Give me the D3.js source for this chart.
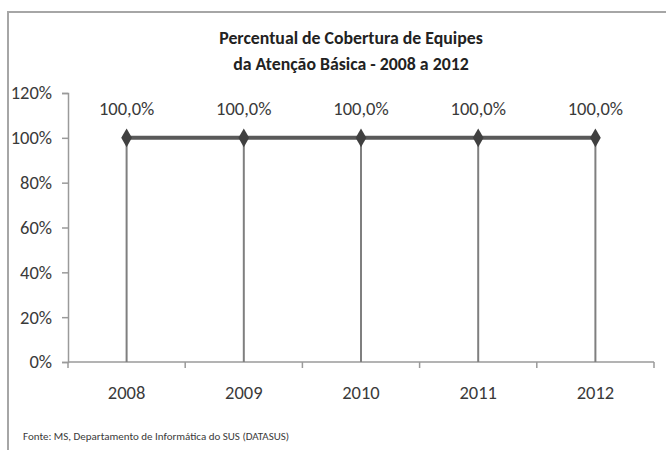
<!DOCTYPE html>
<html>
<head>
<meta charset="utf-8">
<script src="https://cdn.jsdelivr.net/npm/d3@7"></script>
<style>
  html, body { margin: 0; padding: 0; background: #fff; }
  svg { display: block; }
  text { font-family: Carlito, "Liberation Sans Narrow", "Open Sans", sans-serif; }
</style>
</head>
<body>
<svg id="chart" width="666" height="450"></svg>
<script>
// Coverage of primary care teams, 2008–2012
const years = ["2008", "2009", "2010", "2011", "2012"];
const coverage = [100.0, 100.0, 100.0, 100.0, 100.0];
const yTicks = [0, 20, 40, 60, 80, 100, 120];
const titleLines = ["Percentual de Cobertura de Equipes", "da Atenção Básica - 2008 a 2012"];
const sourceNote = "Fonte: MS, Departamento de Informática do SUS (DATASUS)";

const svg = d3.select("#chart");
const W = 666, H = 450;
const fontStack = 'Carlito, "Liberation Sans Narrow", "Open Sans", sans-serif';

// outer chart frame
svg.append("rect")
  .attr("x", 8).attr("y", 12)
  .attr("width", W).attr("height", H)
  .attr("fill", "#fff")
  .attr("stroke", "#a6a6a6").attr("stroke-width", 2);

const x = d3.scaleBand().domain(years).range([68, 654]);
const y = d3.scaleLinear().domain([0, 120]).range([362, 93]);

const axisColor = "#9a9a9a";
const textColor = "#3a3a3a";
const labelSize = 18.5;

// title
svg.append("g").selectAll("text")
  .data(titleLines).join("text")
  .attr("x", 351).attr("y", (d, i) => 44 + i * 26)
  .attr("text-anchor", "middle")
  .attr("font-size", 17.8).attr("font-weight", "bold")
  .attr("fill", "#222")
  .text(d => d);

// y axis
const yAxis = svg.append("g")
  .attr("transform", "translate(68,0)")
  .call(d3.axisLeft(y).tickValues(yTicks).tickSize(6).tickPadding(10).tickFormat(d => d + "%"));
yAxis.select(".domain").attr("stroke", axisColor).attr("stroke-width", 1.5);
yAxis.selectAll(".tick line").attr("stroke", axisColor).attr("stroke-width", 1.5);
yAxis.selectAll(".tick text").attr("font-size", labelSize).attr("fill", textColor)
  .attr("font-family", fontStack);

// x axis: ticks sit on category boundaries
const xAxisG = svg.append("g").attr("transform", "translate(0,362)");
xAxisG.append("line")
  .attr("x1", x.range()[0]).attr("x2", x.range()[1])
  .attr("stroke", axisColor).attr("stroke-width", 1.5);
const bounds = years.map(d => x(d)).concat([x.range()[1]]);
xAxisG.selectAll("line.tick").data(bounds).join("line")
  .attr("class", "tick")
  .attr("x1", d => d).attr("x2", d => d)
  .attr("y1", 0).attr("y2", 6)
  .attr("stroke", axisColor).attr("stroke-width", 1.5);
xAxisG.selectAll("text").data(years).join("text")
  .attr("x", d => x(d) + x.bandwidth() / 2)
  .attr("y", 37)
  .attr("text-anchor", "middle")
  .attr("font-size", labelSize).attr("fill", textColor)
  .text(d => d);

const pts = years.map((d, i) => ({ year: d, v: coverage[i] }));
const cx = d => x(d.year) + x.bandwidth() / 2;

// drop lines from each point to the axis
svg.append("g").selectAll("line").data(pts).join("line")
  .attr("x1", cx).attr("x2", cx)
  .attr("y1", d => y(d.v)).attr("y2", y(0))
  .attr("stroke", "#7f7f7f").attr("stroke-width", 2);

// series line
svg.append("path")
  .datum(pts)
  .attr("fill", "none")
  .attr("stroke", "#595959").attr("stroke-width", 4)
  .attr("d", d3.line().x(cx).y(d => y(d.v)));

// diamond markers
svg.append("g").selectAll("path").data(pts).join("path")
  .attr("transform", d => `translate(${cx(d)},${y(d.v)})`)
  .attr("d", d3.symbol().type(d3.symbolDiamond).size(100))
  .attr("fill", "#404040");

// data labels
svg.append("g").selectAll("text").data(pts).join("text")
  .attr("x", cx).attr("y", d => y(d.v) - 23)
  .attr("text-anchor", "middle")
  .attr("font-size", labelSize).attr("fill", textColor)
  .text(d => d3.format(".1f")(d.v).replace(".", ",") + "%");

// source note
svg.append("text")
  .attr("x", 23).attr("y", 440)
  .attr("font-size", 11).attr("fill", "#3a3a3a")
  .text(sourceNote);
</script>
</body>
</html>
